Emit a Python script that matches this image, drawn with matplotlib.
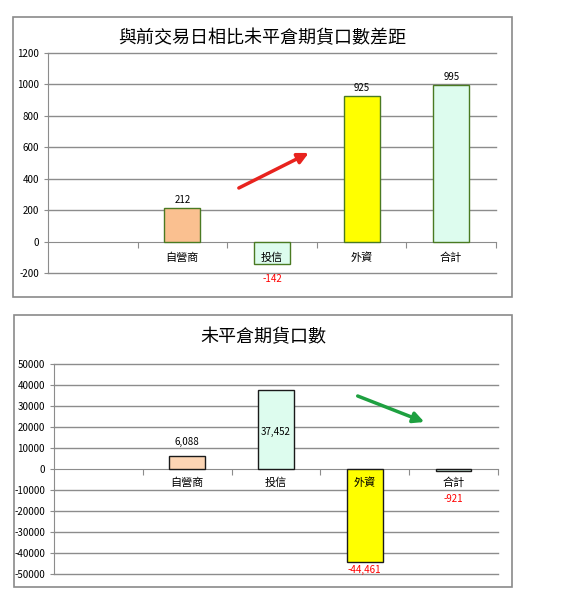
import matplotlib
matplotlib.use("Agg")
import numpy as np
from matplotlib import pyplot as plt
from matplotlib.patches import Rectangle

plt.rcParams['font.family'] = ['Noto Sans CJK TC', 'DejaVu Sans']
plt.rcParams['axes.unicode_minus'] = False

# data
categories = ['自營商', '投信', '外資', '合計']
diff_values = [212, -142, 925, 995]
oi_values = [6088, 37452, -44461, -921]
title_top = '與前交易日相比未平倉期貨口數差距'
title_bottom = '未平倉期貨口數'

W, H = 577, 600
fig = plt.figure(figsize=(W / 100, H / 100), dpi=100)

def fig_rect(x0, y0, x1, y1):
    # pixel box (top-left origin) -> figure fraction
    return [x0 / W, 1 - y1 / H, (x1 - x0) / W, (y1 - y0) / H]

def panel(x0, y0, x1, y1):
    l, b, w, h = fig_rect(x0, y0, x1, y1)
    fig.patches.append(Rectangle((l, b), w, h, transform=fig.transFigure,
                                 fill=False, edgecolor='#8a8a8a', lw=1.2))

def setup_axes(ax, ymin, ymax, step):
    ax.set_xlim(-0.5, 4.5)
    ax.set_ylim(ymin, ymax)
    ticks = np.arange(ymin, ymax + 1, step)
    ax.set_yticks(ticks)
    # gridlines drawn by hand so the edge ones are not clipped
    for t in ticks:
        if t != 0:
            ax.axhline(t, color='#8c8c8c', lw=1.0, zorder=0, clip_on=False)
    for s in ['top', 'right']:
        ax.spines[s].set_visible(False)
    ax.spines['left'].set_color('#8c8c8c')
    ax.spines['bottom'].set_position(('data', 0))
    ax.spines['bottom'].set_color('#8c8c8c')
    ax.set_xticks(np.arange(0.5, 4.6, 1.0))
    ax.set_xticklabels([])
    ax.tick_params(axis='both', colors='#8c8c8c', length=3, labelsize=7,
                   labelcolor='black')
    ax.tick_params(axis='x', length=4)

x = np.arange(1, len(categories) + 1)

# ---- top chart
panel(13, 17, 512, 297)
ax1 = fig.add_axes(fig_rect(48, 53, 496, 273))
setup_axes(ax1, -200, 1200, 200)
ax1.bar(x, diff_values, width=0.4,
        color=['#FAC090', '#DDFCEE', '#FFFF00', '#DDFCEE'],
        edgecolor='#4A7A22', lw=1.0, zorder=3)
for xi, c in zip(x, categories):
    ax1.annotate(c, (xi, 0), xytext=(0, -16), textcoords='offset pixels',
                 ha='center', va='center', fontsize=8, zorder=4)
for xi, v in zip(x, diff_values):
    if v >= 0:
        ax1.annotate(str(v), (xi, v), xytext=(0, 3), textcoords='offset pixels',
                     ha='center', va='bottom', fontsize=7)
    else:
        ax1.annotate(str(v), (xi, v), xytext=(0, -15), textcoords='offset pixels',
                     ha='center', va='center', fontsize=7, color='red')
ax1.annotate('', xy=(2.41, 564), xytext=(1.63, 341),
             arrowprops=dict(arrowstyle='-|>', color='#E8231E', lw=2.5,
                             mutation_scale=16, shrinkA=0, shrinkB=0))
fig.text(262.5 / W, 1 - 38 / H, title_top, ha='center', va='center', fontsize=13)

# ---- bottom chart
panel(14, 315, 512, 587)
ax2 = fig.add_axes(fig_rect(54, 364, 498, 574))
setup_axes(ax2, -50000, 50000, 10000)
ax2.bar(x, oi_values, width=0.4,
        color=['#FCD5B4', '#DDFCEE', '#FFFF00', '#DDFCEE'],
        edgecolor='#1a1a1a', lw=1.0, zorder=3)
for xi, c in zip(x, categories):
    ax2.annotate(c, (xi, 0), xytext=(0, -14), textcoords='offset pixels',
                 ha='center', va='center', fontsize=8, zorder=4)
label_offsets = [14, -42, -8, -28]
for xi, v, off in zip(x, oi_values, label_offsets):
    ax2.annotate(f'{v:,}', (xi, v), xytext=(0, off),
                 textcoords='offset pixels', ha='center', va='center',
                 fontsize=7, color='red' if v < 0 else 'black', zorder=4)
ax2.annotate('', xy=(3.67, 22380), xytext=(2.92, 34760),
             arrowprops=dict(arrowstyle='-|>', color='#1EA040', lw=2.5,
                             mutation_scale=16, shrinkA=0, shrinkB=0))
fig.text(263 / W, 1 - 337 / H, title_bottom, ha='center', va='center', fontsize=13)

fig.savefig('out.png', dpi=100)
